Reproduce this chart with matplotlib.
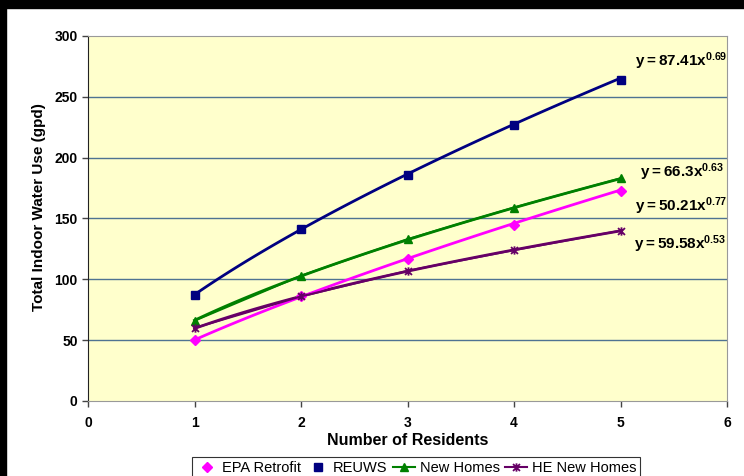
import numpy as np
import matplotlib.pyplot as plt
import matplotlib.path as mpath
from matplotlib.patches import Rectangle

plt.rcParams['font.family'] = ['Liberation Sans', 'DejaVu Sans']
plt.rcParams['mathtext.fontset'] = 'custom'
plt.rcParams['mathtext.rm'] = 'Liberation Sans'
plt.rcParams['mathtext.bf'] = 'Liberation Sans:bold'

residents = [1, 2, 3, 4, 5]
epa_retrofit = [50, 86, 117, 145, 173]
reuws = [87.4, 141, 186, 227, 264]
new_homes = [66, 103, 133, 159, 183]
he_new_homes = [60, 86, 107, 124, 140]

# power trendline y = a * x^b for each series
fit_coef = {'EPA Retrofit': 50.21, 'REUWS': 87.41, 'New Homes': 66.3, 'HE New Homes': 59.58}
fit_exp = {'EPA Retrofit': 0.77, 'REUWS': 0.69, 'New Homes': 0.63, 'HE New Homes': 0.53}

# asterisk marker (x with vertical bar)
star_path = mpath.Path(
    [(-1, -1), (1, 1), (-1, 1), (1, -1), (0, -1.2), (0, 1.2)],
    [mpath.Path.MOVETO, mpath.Path.LINETO] * 3)

fig = plt.figure(figsize=(7.44, 4.76), dpi=100)
ax = fig.add_axes([88 / 744, 1 - 401 / 476, 639 / 744, 365 / 476])
ax.set_facecolor('#FFFFCC')

xs = np.linspace(1, 5, 100)
colors = {'EPA Retrofit': '#FF00FF', 'REUWS': '#000080',
          'New Homes': '#008000', 'HE New Homes': '#660066'}
for name in ['HE New Homes', 'EPA Retrofit', 'New Homes', 'REUWS']:
    ax.plot(xs, fit_coef[name] * xs ** fit_exp[name], color=colors[name], lw=2, zorder=3)

ax.plot(residents, epa_retrofit, ls='none', marker='D', ms=5, color=colors['EPA Retrofit'],
        label='EPA Retrofit', zorder=4)
ax.plot(residents, reuws, ls='none', marker='s', ms=6, color=colors['REUWS'],
        label='REUWS', zorder=4)
ax.plot(residents, new_homes, lw=1.5, marker='^', ms=6, color=colors['New Homes'],
        label='New Homes', zorder=4)
ax.plot(residents, he_new_homes, lw=1.5, marker=star_path, ms=6, mew=1.3,
        color=colors['HE New Homes'], label='HE New Homes', zorder=4)

ax.set_xlim(0, 6)
ax.set_ylim(0, 300)
ax.set_xticks(range(0, 7))
ax.set_yticks(range(0, 301, 50))
for y in range(50, 300, 50):
    ax.axhline(y, color='#4F7392', lw=1, zorder=1)
ax.axhline(300, color='#999999', lw=1.2, zorder=1)

for side in ['top', 'right', 'bottom']:
    ax.spines[side].set_color('#999999')
ax.spines['left'].set_color('#222222')
ax.tick_params(direction='out', length=4, width=1, color='#444444', labelsize=10)
for lbl in ax.get_xticklabels() + ax.get_yticklabels():
    lbl.set_fontweight('bold')
ax.tick_params(axis='x', pad=7)

ax.set_xlabel('Number of Residents', fontsize=11.5, fontweight='bold', labelpad=2)
ax.set_ylabel('Total Indoor Water Use (gpd)', fontsize=11, fontweight='bold')
ax.yaxis.set_label_coords(-0.066, 0.53)

eq_pos = {'REUWS': (5.14, 279), 'New Homes': (5.18, 188),
          'EPA Retrofit': (5.14, 160), 'HE New Homes': (5.13, 129)}
for name, (x, y) in eq_pos.items():
    ax.text(x, y, r'$\mathbf{y = %s x^{%s}}$' % (fit_coef[name], fit_exp[name]),
            fontsize=11, va='center', ha='left', zorder=5)

leg = fig.legend(loc='upper center', bbox_to_anchor=(416 / 744, 1 - 457 / 476), ncol=4,
                 fontsize=10.5, frameon=True, fancybox=False, edgecolor='black',
                 handlelength=1.5, handletextpad=0.3, columnspacing=0.4,
                 borderpad=0.25, borderaxespad=0)
leg.get_frame().set_linewidth(0.8)

# dark frame on top and left edges
fig.patches.append(Rectangle((0, 1 - 8 / 476), 1, 8 / 476, transform=fig.transFigure,
                             color='black', zorder=10))
fig.patches.append(Rectangle((0, 0), 6 / 744, 1, transform=fig.transFigure,
                             color='black', zorder=10))

fig.savefig('out.png', dpi=100)
